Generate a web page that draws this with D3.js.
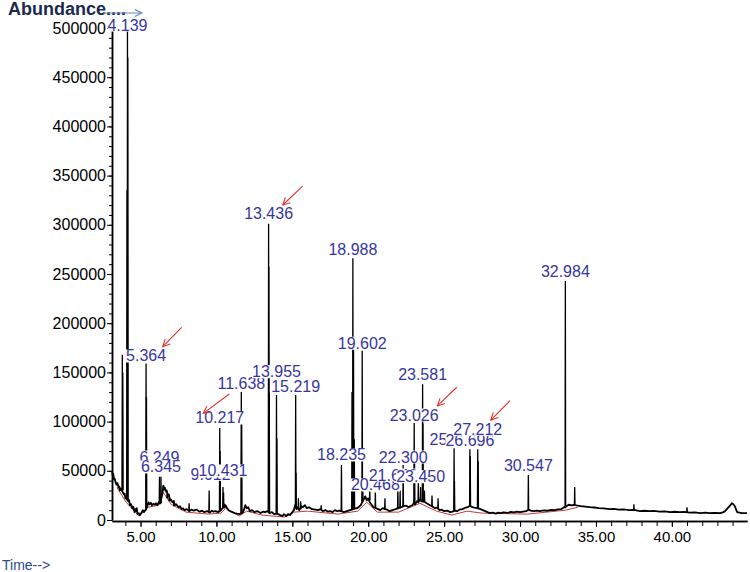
<!DOCTYPE html>
<html lang="en">
<head>
<meta charset="UTF-8">
<script src="https://d3js.org/d3.v7.min.js"></script>
<style>
  body { margin: 0; background: #fff; }
  svg { display: block; font-family: Arial, "Liberation Sans", sans-serif; }
  .axis path, .axis line { stroke: #000; }
  .axis text { fill: #000; }
</style>
</head>
<body>
<div id="chart"></div>
<script>
// baseline of the chromatogram: [time (min), abundance]
const trace = [
  [3.12, 50000], [3.17, 45000], [3.2, 47000], [3.26, 41000], [3.3, 42000], [3.36, 38000], [3.42, 36000],
  [3.48, 37500], [3.55, 33000], [3.6, 34000], [3.64, 30000], [3.7, 32000], [3.75, 30500], [3.9, 26000],
  [3.95, 27000], [4.0, 22000], [4.1, 23000], [4.2, 19000], [4.25, 20000], [4.3, 15000], [4.38, 16000],
  [4.45, 12000], [4.52, 13500], [4.6, 8000], [4.65, 11000], [4.7, 9000], [4.75, 12000], [4.8, 6000],
  [4.88, 7000], [4.95, 5000], [5.05, 7000], [5.15, 10000], [5.22, 8000], [5.3, 9500], [5.38, 12000],
  [5.45, 14000], [5.52, 18000], [5.6, 16000], [5.68, 17500], [5.75, 15000], [5.85, 16500], [5.95, 15500],
  [6.02, 17000], [6.1, 15000], [6.2, 18000], [6.3, 17000], [6.4, 24000], [6.45, 28000], [6.5, 35000],
  [6.55, 31000], [6.6, 33000], [6.67, 29000], [6.72, 30000], [6.8, 25000], [6.86, 26000], [6.93, 20000],
  [7.0, 21000], [7.1, 18000], [7.18, 19000], [7.26, 15000], [7.35, 16000], [7.5, 13000], [7.6, 14000],
  [7.7, 11000], [7.8, 12000], [7.9, 10000], [8.05, 11000], [8.2, 9000], [8.35, 10500], [8.5, 9500],
  [8.7, 10500], [8.9, 8500], [9.05, 9500], [9.2, 8000], [9.4, 9000], [9.57, 7500], [9.7, 9500],
  [9.8, 8500], [9.95, 9000], [10.1, 8000], [10.3, 10000], [10.4, 12000], [10.5, 16000], [10.55, 13000],
  [10.6, 15000], [10.7, 12000], [10.8, 10000], [10.9, 9000], [11.05, 8000], [11.2, 7000], [11.35, 6500],
  [11.55, 6000], [11.75, 8000], [11.85, 12000], [11.9, 15000], [12.0, 12000], [12.1, 13000], [12.2, 9000],
  [12.35, 10000], [12.5, 8000], [12.7, 9000], [12.9, 7000], [13.05, 8500], [13.2, 8000], [13.35, 9000],
  [13.5, 7000], [13.65, 8000], [13.8, 6000], [14.0, 6500], [14.2, 5000], [14.35, 4000], [14.45, 6000],
  [14.6, 4000], [14.72, 6000], [14.84, 5000], [15.0, 8000], [15.1, 10000], [15.18, 15000], [15.28, 11000],
  [15.35, 13000], [15.45, 10000], [15.5, 11000], [15.6, 14000], [15.7, 13000], [15.83, 15000], [15.95, 12000],
  [16.1, 13000], [16.3, 11000], [16.5, 10500], [16.7, 10000], [16.85, 11000], [17.0, 9000], [17.2, 10000],
  [17.35, 8500], [17.5, 9000], [17.65, 8000], [17.8, 10000], [17.95, 9000], [18.1, 9500], [18.4, 8000],
  [18.6, 9000], [18.8, 10000], [19.0, 11000], [19.1, 11500], [19.25, 12000], [19.4, 13500], [19.5, 15000],
  [19.6, 18000], [19.7, 21000], [19.8, 24000], [19.9, 20000], [20.0, 22000], [20.1, 18000], [20.25, 15000],
  [20.35, 13000], [20.5, 12000], [20.65, 11000], [20.8, 10000], [20.95, 12000], [21.1, 11000], [21.25, 10500],
  [21.4, 9000], [21.6, 10000], [21.8, 11000], [21.95, 12000], [22.1, 12500], [22.3, 14000], [22.5, 14500],
  [22.65, 13000], [22.75, 14000], [22.9, 15000], [23.0, 17000], [23.1, 16000], [23.2, 19000], [23.3, 18000],
  [23.4, 21000], [23.5, 19000], [23.7, 18500], [23.85, 17000], [24.07, 15000], [24.2, 14000], [24.4, 12000],
  [24.55, 12500], [24.7, 10000], [24.85, 10500], [25.0, 9000], [25.2, 9500], [25.4, 8000], [25.55, 8500],
  [25.7, 9500], [25.85, 9000], [26.0, 10500], [26.2, 11000], [26.4, 12500], [26.55, 13000], [26.7, 14500],
  [26.85, 13000], [27.0, 12500], [27.2, 12000], [27.4, 11000], [27.55, 10000], [27.7, 9000], [27.85, 8000],
  [28.0, 7000], [28.2, 7500], [28.4, 6500], [28.55, 7500], [28.7, 7000], [28.9, 7800], [29.2, 7300],
  [29.4, 8200], [29.6, 7800], [29.8, 8500], [30.0, 8000], [30.2, 8600], [30.4, 9000], [30.55, 10500],
  [30.7, 9500], [30.9, 9000], [31.1, 9600], [31.3, 9000], [31.55, 9800], [31.8, 9400], [32.05, 10200],
  [32.3, 10000], [32.5, 10800], [32.7, 11000], [32.9, 13000], [33.05, 14000], [33.2, 15500], [33.4, 14800],
  [33.6, 15500], [33.8, 14500], [34.0, 14000], [34.3, 13500], [34.6, 13000], [34.9, 12700], [35.2, 12000],
  [35.5, 11800], [35.9, 11000], [36.2, 11200], [36.5, 10500], [36.8, 10700], [37.2, 10000], [37.5, 10300],
  [37.9, 9000], [38.2, 9400], [38.5, 9000], [38.8, 9200], [39.2, 8500], [39.5, 8800], [39.9, 8000],
  [40.2, 8400], [40.5, 8000], [40.8, 8200], [41.2, 7500], [41.5, 7800], [41.9, 7000], [42.2, 7400],
  [42.5, 7000], [42.8, 7200], [43.2, 7000], [43.4, 8000], [43.5, 9000], [43.65, 11500], [43.8, 14000],
  [43.95, 17000], [44.05, 16000], [44.15, 14000], [44.3, 8000], [44.45, 7500], [44.6, 7000], [44.95, 7000]
];

// sharp peaks: [time, apex, base]
const peaks = [
  [3.80, 168000, 31000], [3.83, 150000, 30000], [4.11, 335000, 20000], [4.139, 497000, 20000],
  [4.16, 470000, 19000], [5.364, 159000, 10000], [5.39, 125000, 12000], [6.249, 44000, 16000],
  [6.345, 44000, 17000], [6.75, 27000, 22000], [6.9, 25000, 19000], [7.2, 20000, 14000],
  [8.2, 17000, 9000], [9.52, 30000, 8000], [10.217, 93500, 9000], [10.24, 70000, 10000],
  [10.431, 33500, 12000], [10.47, 28000, 12000], [11.638, 130000, 6000], [11.66, 106000, 7000],
  [13.436, 301000, 8000], [13.45, 257000, 8000], [13.48, 129000, 7000], [13.955, 127000, 6000],
  [13.98, 83000, 6000], [15.219, 127000, 12000], [15.24, 48000, 13000], [15.4, 22000, 11000],
  [15.55, 19000, 11000], [16.9, 15000, 10000], [18.235, 56000, 9000], [18.93, 130000, 10000],
  [18.988, 266000, 11000], [19.03, 175000, 11000], [19.08, 82000, 11000], [19.602, 172000, 18000],
  [19.63, 40000, 19000], [20.1, 30000, 20000], [20.468, 28000, 12000], [21.1, 22000, 11000],
  [21.95, 35500, 11000], [22.1, 30000, 12000], [22.3, 56000, 13000], [23.026, 98500, 16000],
  [23.05, 60000, 16000], [23.3, 40000, 19000], [23.45, 33500, 20000], [23.581, 138000, 19000],
  [23.6, 98000, 19000], [23.7, 30000, 18500], [24.2, 25000, 14000], [24.6, 22000, 11000],
  [25.655, 73000, 9000], [25.68, 40000, 9000], [26.696, 71800, 14000], [26.72, 65000, 14000],
  [27.212, 72000, 12000], [27.24, 60000, 11000], [30.547, 45700, 10000], [32.984, 243000, 12000],
  [33.6, 33500, 15000], [37.5, 16000, 9500], [41.0, 13000, 7800]
];

// integration baseline (red)
const redBase = [
  [3.45, 33000], [4.05, 18000], [4.9, 4000], [5.5, 13000], [6.2, 15000], [6.5, 28000], [7.0, 16000],
  [8.0, 8000], [9.5, 6000], [10.3, 7000], [10.6, 12000], [11.5, 4000], [12.0, 9000], [13.0, 5000],
  [14.5, 3000], [15.1, 8000], [16.0, 9000], [18.0, 6000], [19.3, 9000], [19.9, 18000], [20.6, 8000],
  [22.0, 8000], [23.4, 17000], [24.5, 9000], [25.5, 5000], [26.5, 9000], [27.5, 7000], [30.5, 6000],
  [33.0, 10000], [33.8, 13000]
];

// peak labels: [text, time, abundance of label centre]
const labels = [
  ["4.139", 4.139, 503000], ["5.364", 5.364, 166700], ["6.249", 6.249, 64000], ["6.345", 6.345, 53900],
  ["9.612", 9.612, 46400], ["10.217", 10.217, 103700], ["10.431", 10.431, 49800],
  ["11.638", 11.638, 139200], ["13.436", 13.436, 311000], ["13.955", 13.955, 150700],
  ["15.219", 15.219, 135500], ["18.235", 18.235, 66100], ["18.988", 18.988, 274400],
  ["19.602", 19.602, 179600], ["20.468", 20.468, 35600], ["21.640", 21.64, 45700],
  ["22.300", 22.3, 64000], ["23.026", 23.026, 106700], ["23.450", 23.45, 44000],
  ["23.581", 23.581, 147400], ["25.655", 25.655, 82300], ["26.696", 26.696, 80600],
  ["27.212", 27.212, 92200], ["30.547", 30.547, 54900], ["32.984", 32.984, 253000]
];

// red marker arrows: [t1, a1, t2, a2] (tail -> head)
const arrows = [
  [15.68, 339400, 14.365, 320100], [7.71, 195800, 6.46, 176100], [10.85, 128000, 9.13, 108400],
  [25.83, 134900, 24.55, 115900], [29.34, 121200, 28.07, 101600]
];

const yTicks = d3.range(0, 500001, 50000);
const yMinor = d3.range(0, 500001, 10000);
const xTicks = [5, 10, 15, 20, 25, 30, 35, 40];
const xMinor = d3.range(4, 45, 1);

const W = 750, H = 572;
const svg = d3.select("#chart").append("svg").attr("width", W).attr("height", H);

const x = d3.scaleLinear().domain([3.12, 44.95]).range([112, 747]);
const y = d3.scaleLinear().domain([0, 500000]).range([520, 28]);

const defs = svg.append("defs");
defs.append("marker").attr("id", "redhead").attr("viewBox", "0 0 10 10")
  .attr("refX", 9).attr("refY", 5).attr("markerWidth", 9).attr("markerHeight", 9)
  .attr("markerUnits", "userSpaceOnUse").attr("orient", "auto")
  .append("path").attr("d", "M1,1 L9,5 L1,9").attr("fill", "none").attr("stroke", "#e0302c").attr("stroke-width", 1.2);
defs.append("marker").attr("id", "bluehead").attr("viewBox", "0 0 10 10")
  .attr("refX", 9).attr("refY", 5).attr("markerWidth", 9).attr("markerHeight", 9)
  .attr("markerUnits", "userSpaceOnUse").attr("orient", "auto")
  .append("path").attr("d", "M1,1 L9,5 L1,9").attr("fill", "none").attr("stroke", "#5a86c0").attr("stroke-width", 1.2);

// axes
svg.append("g").attr("class", "axis").attr("transform", "translate(112,0)")
  .call(d3.axisLeft(y).tickValues(yMinor).tickSize(3).tickSizeOuter(0).tickFormat(""));
svg.append("g").attr("class", "axis").attr("transform", "translate(112,0)")
  .call(d3.axisLeft(y).tickValues(yTicks).tickSize(5).tickSizeOuter(0).tickPadding(1).tickFormat(d => d))
  .call(g => g.selectAll("text").style("font-size", "16px"));

svg.append("g").attr("class", "axis").attr("transform", "translate(0,521)")
  .call(d3.axisBottom(x).tickValues(xMinor).tickSize(5).tickSizeOuter(0).tickFormat(""));
svg.append("g").attr("class", "axis").attr("transform", "translate(0,521)")
  .call(d3.axisBottom(x).tickValues(xTicks).tickSize(6).tickSizeOuter(0).tickPadding(4).tickFormat(d3.format(".2f")))
  .call(g => g.selectAll("text").style("font-size", "15px"));
svg.selectAll(".axis path").attr("stroke-width", 1.5);

// red baseline
const line = d3.line().x(d => x(d[0])).y(d => y(d[1]));
svg.append("path").datum(redBase).attr("d", line)
  .attr("fill", "none").attr("stroke", "#c23a3a").attr("stroke-width", 1);

// trace
svg.append("path").datum(trace).attr("d", line)
  .attr("fill", "none").attr("stroke", "#000").attr("stroke-width", 1.8).attr("stroke-linejoin", "round");

svg.append("g").selectAll("path").data(peaks).join("path")
  .attr("d", d => `M${x(d[0] - 0.02)},${y(d[2])}L${x(d[0])},${y(d[1])}L${x(d[0] + 0.02)},${y(d[2])}`)
  .attr("fill", "none").attr("stroke", "#000").attr("stroke-width", 1.3);

// peak labels with white boxes
const lg = svg.append("g");
labels.forEach(d => {
  const g = lg.append("g");
  const t = g.append("text")
    .attr("x", x(d[1])).attr("y", y(d[2]))
    .attr("text-anchor", "middle").attr("dominant-baseline", "central")
    .style("font-size", "16px").attr("fill", "#3636a2").text(d[0]);
  const b = t.node().getBBox();
  g.insert("rect", "text").attr("x", b.x).attr("y", b.y + 2)
    .attr("width", b.width).attr("height", b.height - 4).attr("fill", "#fff");
});

// red arrows
svg.append("g").selectAll("line").data(arrows).join("line")
  .attr("x1", d => x(d[0])).attr("y1", d => y(d[1]))
  .attr("x2", d => x(d[2])).attr("y2", d => y(d[3]))
  .attr("stroke", "#e0302c").attr("stroke-width", 1.1).attr("marker-end", "url(#redhead)");

// titles
svg.append("text").attr("x", 8).attr("y", 15)
  .style("font-size", "18px").style("font-weight", "bold").attr("fill", "#1c2a4c")
  .text("Abundance....");
svg.append("line").attr("x1", 103).attr("y1", 13).attr("x2", 142).attr("y2", 13)
  .attr("stroke", "#5a86c0").attr("stroke-width", 1).attr("marker-end", "url(#bluehead)");
svg.append("text").attr("x", 2).attr("y", 570)
  .style("font-size", "14px").attr("fill", "#2c4a8c")
  .text("Time-->");
</script>
</body>
</html>
